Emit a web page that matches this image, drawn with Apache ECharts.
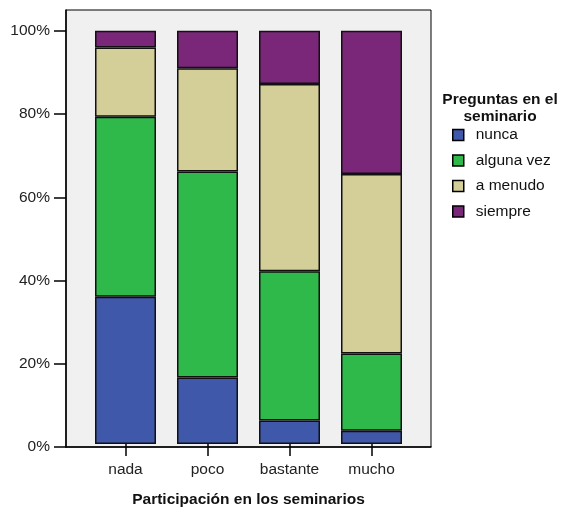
<!DOCTYPE html>
<html>
<head>
<meta charset="utf-8">
<script src="https://cdn.jsdelivr.net/npm/echarts@6/dist/echarts.min.js"></script>
<style>html,body{margin:0;padding:0;background:#fff}#c{width:563px;height:513px}</style>
</head>
<body>
<div id="c"></div>
<script>
var categories = ['nada', 'poco', 'bastante', 'mucho'];
var seriesNames = ['nunca', 'alguna vez', 'a menudo', 'siempre'];
var nunca = [35.6, 16.1, 5.7, 3.2];
var algunaVez = [43.6, 49.8, 36.1, 18.7];
var aMenudo = [16.7, 25.0, 45.3, 43.4];
var siempre = [4.1, 9.1, 12.9, 34.7];
var yTicks = [0, 20, 40, 60, 80, 100];
var colors = ['#3f58aa', '#2fb94a', '#d4ce98', '#7a2779'];

var font = '"Liberation Sans", Arial, Helvetica, sans-serif';
var allValues = [nunca, algunaVez, aMenudo, siempre];

var chart = echarts.init(document.getElementById('c'), null, {renderer: 'canvas'});
chart.setOption({
  animation: false,
  textStyle: {fontFamily: font},
  title: {
    text: 'Preguntas en el\nseminario',
    left: 500, top: 91, padding: 0, textAlign: 'center',
    textStyle: {fontFamily: font, fontSize: 15.5, fontWeight: 'bold', color: '#111', lineHeight: 17}
  },
  legend: {
    orient: 'vertical', left: 452, top: 127, padding: 0,
    itemWidth: 11, itemHeight: 11, itemGap: 9.5,
    icon: 'rect',
    data: seriesNames,
    itemStyle: {borderColor: '#000', borderWidth: 1.5},
    textStyle: {fontFamily: font, fontSize: 15.5, color: '#111', padding: [0, 0, 0, 7]}
  },
  grid: [
    {left: 66, right: 132, top: 10, bottom: 66, show: true, backgroundColor: '#f0f0f0', borderColor: '#000', borderWidth: 1},
    {left: 84.5, right: 150.5, top: 10, bottom: 66}
  ],
  xAxis: [
    {
      gridIndex: 0, type: 'value', min: 0, max: 1,
      splitLine: {show: false},
      axisLine: {show: true, lineStyle: {color: '#000', width: 1.5}},
      axisTick: {show: false}, axisLabel: {show: false}
    },
    {
      gridIndex: 1, type: 'category', data: categories, boundaryGap: true,
      axisLine: {show: false},
      axisTick: {show: true, alignWithLabel: true, interval: 0, length: 12, lineStyle: {color: '#000', width: 1.5}},
      axisLabel: {interval: 0, margin: 18, fontSize: 15.5, color: '#222', fontFamily: font},
      name: 'Participación en los seminarios', nameLocation: 'middle', nameGap: 48,
      nameTextStyle: {fontFamily: font, fontSize: 15.5, fontWeight: 'bold', color: '#111'}
    }
  ],
  yAxis: [
    {
      gridIndex: 0, type: 'value', min: 0, max: 105,
      splitLine: {show: false},
      axisLine: {show: true, lineStyle: {color: '#000', width: 1.5}},
      axisTick: {show: true, customValues: yTicks, length: 12, lineStyle: {color: '#000', width: 1.5}},
      axisLabel: {customValues: yTicks, margin: 16, fontSize: 15.5, color: '#222', fontFamily: font, formatter: '{value}%'}
    },
    {
      gridIndex: 1, type: 'value', min: 0, max: 105, show: false, splitLine: {show: false}
    }
  ],
  series: seriesNames.map(function (name, k) {
    return {
      name: name, type: 'bar', stack: 'total', barWidth: 61,
      xAxisIndex: 1, yAxisIndex: 1,
      itemStyle: {color: colors[k], borderColor: '#111', borderWidth: 1.5},
      data: allValues[k]
    };
  })
});
</script>
</body>
</html>
